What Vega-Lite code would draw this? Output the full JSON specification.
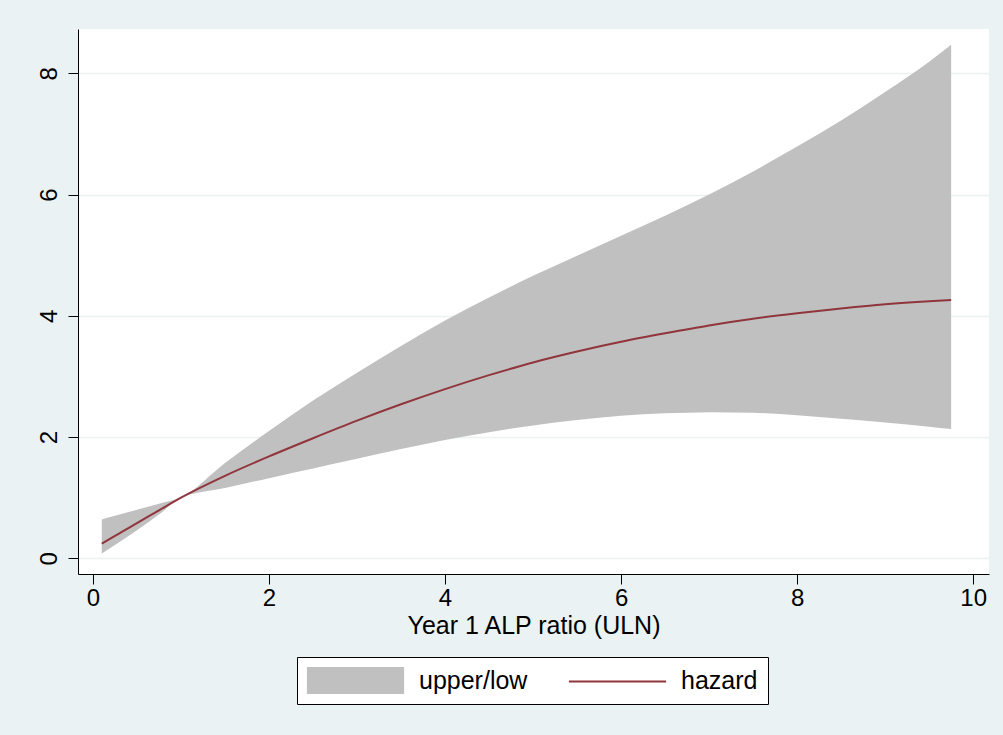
{
  "$schema": "https://vega.github.io/schema/vega-lite/v6.json",
  "width": 911,
  "height": 545,
  "autosize": "none",
  "padding": {"left": 78, "top": 29, "right": 14, "bottom": 161},
  "background": "#EAF2F3",
  "config": {
    "view": {"fill": "white", "stroke": null},
    "font": "Liberation Sans",
    "axis": {
      "domainColor": "black",
      "domainWidth": 1,
      "tickColor": "black",
      "tickWidth": 1,
      "tickSize": 10,
      "labelColor": "black",
      "titleColor": "black",
      "labelFont": "Liberation Sans",
      "titleFont": "Liberation Sans",
      "titleFontWeight": "normal",
      "labelFontSize": 24,
      "titleFontSize": 25
    }
  },
  "data": {
    "values": [
      {"x": 0.1, "hazard": 0.24, "upper": 0.64, "lower": 0.08},
      {"x": 0.25, "hazard": 0.37, "upper": 0.70, "lower": 0.22},
      {"x": 0.5, "hazard": 0.58, "upper": 0.80, "lower": 0.46},
      {"x": 0.75, "hazard": 0.79, "upper": 0.90, "lower": 0.72},
      {"x": 1.0, "hazard": 1.0, "upper": 1.0, "lower": 1.0},
      {"x": 1.5, "hazard": 1.36, "upper": 1.57, "lower": 1.16},
      {"x": 2.0, "hazard": 1.68, "upper": 2.10, "lower": 1.32},
      {"x": 2.5, "hazard": 1.98, "upper": 2.60, "lower": 1.48},
      {"x": 3.0, "hazard": 2.27, "upper": 3.06, "lower": 1.64},
      {"x": 3.5, "hazard": 2.54, "upper": 3.50, "lower": 1.80},
      {"x": 4.0, "hazard": 2.79, "upper": 3.92, "lower": 1.95},
      {"x": 4.5, "hazard": 3.02, "upper": 4.30, "lower": 2.08},
      {"x": 5.0, "hazard": 3.23, "upper": 4.66, "lower": 2.19},
      {"x": 5.5, "hazard": 3.41, "upper": 4.99, "lower": 2.28},
      {"x": 6.0, "hazard": 3.57, "upper": 5.32, "lower": 2.35},
      {"x": 6.5, "hazard": 3.71, "upper": 5.65, "lower": 2.39},
      {"x": 7.0, "hazard": 3.84, "upper": 6.00, "lower": 2.41},
      {"x": 7.5, "hazard": 3.95, "upper": 6.38, "lower": 2.40},
      {"x": 8.0, "hazard": 4.04, "upper": 6.79, "lower": 2.36},
      {"x": 8.5, "hazard": 4.12, "upper": 7.22, "lower": 2.30},
      {"x": 9.0, "hazard": 4.19, "upper": 7.69, "lower": 2.24},
      {"x": 9.5, "hazard": 4.24, "upper": 8.19, "lower": 2.17},
      {"x": 9.75, "hazard": 4.26, "upper": 8.47, "lower": 2.13}
    ]
  },
  "encoding": {
    "x": {
      "field": "x",
      "type": "quantitative",
      "scale": {"domain": [-0.17, 10.18], "nice": false, "zero": false},
      "axis": {
        "title": "Year 1 ALP ratio (ULN)",
        "values": [0, 2, 4, 6, 8, 10],
        "format": "d",
        "grid": false,
        "labelPadding": 2,
        "titlePadding": 3,
        "labelFlush": false
      }
    }
  },
  "layer": [
    {
      "mark": {"type": "area", "interpolate": "monotone", "opacity": 1},
      "encoding": {
        "y": {
          "field": "upper",
          "type": "quantitative",
          "scale": {"domain": [-0.26, 8.73], "nice": false, "zero": false},
          "axis": {
            "title": null,
            "values": [0, 2, 4, 6, 8],
            "format": "d",
            "grid": true,
            "gridColor": "#EAF2F3",
            "gridWidth": 1.5,
            "labelAngle": -90,
            "labelAlign": "center",
            "labelBaseline": "alphabetic",
            "labelPadding": 12,
            "labelFlush": false
          }
        },
        "y2": {"field": "lower"},
        "fill": {
          "datum": "upper/low",
          "type": "nominal",
          "scale": {"domain": ["upper/low", "hazard"], "range": ["#C0C0C0", "transparent"]},
          "legend": {
            "title": null,
            "orient": "none",
            "legendX": 219,
            "legendY": 628,
            "direction": "horizontal",
            "columns": 2,
            "columnPadding": 40,
            "padding": 10,
            "strokeColor": "black",
            "fillColor": "white",
            "cornerRadius": 0,
            "symbolType": "M-3.6,-1H3.6V1H-3.6Z",
            "symbolSize": 729,
            "symbolOffset": 35,
            "labelOffset": 50,
            "labelFontSize": 25,
            "labelFont": "Liberation Sans",
            "labelColor": "black",
            "symbolStrokeWidth": 0,
            "symbolOpacity": 1,
            "zindex": 0
          }
        }
      }
    },
    {
      "mark": {"type": "line", "interpolate": "monotone", "strokeWidth": 2},
      "encoding": {
        "y": {"field": "hazard", "type": "quantitative"},
        "stroke": {
          "datum": "hazard",
          "type": "nominal",
          "scale": {"domain": ["hazard"], "range": ["#90353B"]},
          "legend": {
            "title": null,
            "orient": "none",
            "legendX": 480,
            "legendY": 628,
            "padding": 10,
            "strokeColor": null,
            "fillColor": null,
            "symbolType": "M-3.6,0H3.6",
            "symbolSize": 729,
            "symbolOffset": 35,
            "symbolStrokeWidth": 2,
            "symbolOpacity": 1,
            "labelFontSize": 25,
            "labelExpr": "''",
            "zindex": 1
          }
        }
      }
    }
  ]
}
